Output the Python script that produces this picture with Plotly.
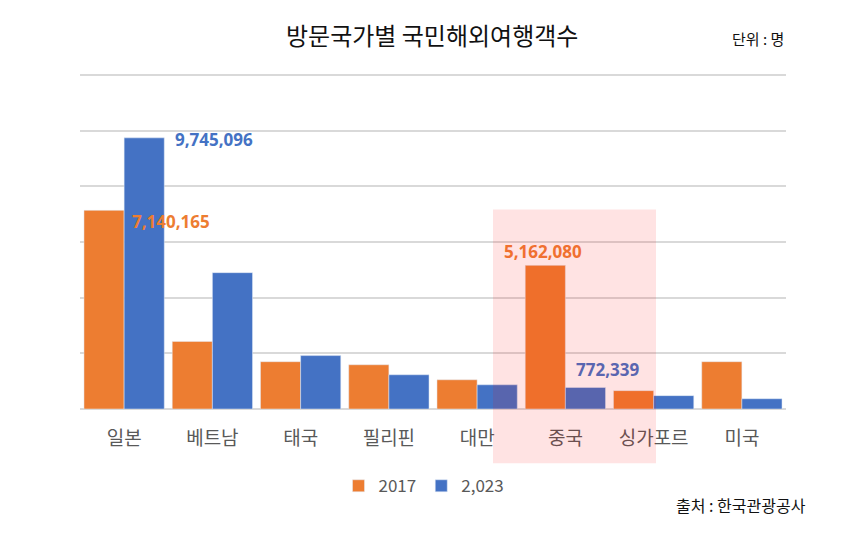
import plotly.graph_objects as go

countries = ['일본', '베트남', '태국', '필리핀', '대만', '중국', '싱가포르', '미국']
visitors_2017 = [7140165, 2430000, 1700000, 1590000, 1050000, 5162080, 660000, 1700000]
visitors_2023 = [9745096, 4900000, 1920000, 1230000, 870000, 772339, 480000, 370000]

ORANGE = '#ED7D31'
BLUE = '#4472C4'
KFONT = 'Noto Sans CJK KR'

# plot area in page pixels (page body has an 8px margin)
PX0, PX1, PY0, PY1 = 80, 786, 409, 75


def px(x):
    return (x - PX0) / (PX1 - PX0)


def py(y):
    return (PY0 - y) / (PY0 - PY1)


fig = go.Figure()
fig.add_trace(go.Bar(x=countries, y=visitors_2017, name='2017', marker_color=ORANGE))
fig.add_trace(go.Bar(x=countries, y=visitors_2023, name='2,023', marker_color=BLUE))

# value labels
labels = [
    dict(x=countries[0], y=visitors_2017[0], text=f'{visitors_2017[0]:,}', color=ORANGE,
         xanchor='left', xshift=6, yshift=-11),
    dict(x=countries[0], y=visitors_2023[0], text=f'{visitors_2023[0]:,}', color=BLUE,
         xanchor='left', xshift=49, yshift=-2),
    dict(x=countries[5], y=visitors_2017[5], text=f'{visitors_2017[5]:,}', color='#F07030',
         xanchor='center', xshift=-22, yshift=14),
    dict(x=countries[5], y=visitors_2023[5], text=f'{visitors_2023[5]:,}', color='#5A66B0',
         xanchor='center', xshift=42, yshift=18),
]
for l in labels:
    fig.add_annotation(x=l['x'], y=l['y'], text=l['text'], showarrow=False,
                       xanchor=l['xanchor'], yanchor='middle',
                       xshift=l['xshift'], yshift=l['yshift'],
                       font=dict(family='Open Sans', size=17, color=l['color'], weight='bold'))

# highlight box around 중국 / 싱가포르
fig.add_shape(type='rect', xref='paper', yref='paper',
              x0=px(493), x1=px(656), y0=py(463), y1=py(210),
              fillcolor='rgba(255,0,0,0.11)', line_width=0, layer='above')

fig.add_annotation(text='방문국가별 국민해외여행객수', xref='paper', yref='paper',
                   x=px(432), y=py(36), showarrow=False,
                   xanchor='center', yanchor='middle',
                   font=dict(family=KFONT, size=24, color='#111111'))
fig.add_annotation(text='단위 : 명', xref='paper', yref='paper',
                   x=px(786), y=py(40), showarrow=False,
                   xanchor='right', yanchor='middle',
                   font=dict(family=KFONT, size=15, color='#111111'))
fig.add_annotation(text='출처 : 한국관광공사', xref='paper', yref='paper',
                   x=px(808), y=py(505), showarrow=False,
                   xanchor='right', yanchor='middle',
                   font=dict(family=KFONT, size=16, color='#111111'))

fig.update_layout(
    width=867, height=541,
    margin=dict(l=PX0 - 8, r=867 - PX1 + 8, t=PY1 - 8 - 1, b=541 - PY0 + 8),
    plot_bgcolor='white', paper_bgcolor='white',
    barmode='group', bargap=0.09, bargroupgap=0,
    showlegend=True,
    legend=dict(orientation='h', x=px(424), xanchor='center', y=py(486), yanchor='middle',
                font=dict(family=KFONT, size=17, color='#595959'),
                itemwidth=30, traceorder='normal'),
    xaxis=dict(tickfont=dict(family=KFONT, size=19, color='#595959'),
               showgrid=False, showline=False, ticks='', ticklabelstandoff=16),
    yaxis=dict(range=[0, 12040000], dtick=2000000, showticklabels=False,
               gridcolor='#d9d9d9', gridwidth=2, zeroline=True,
               zerolinecolor='#d9d9d9', zerolinewidth=2),
)

fig.write_html('out.html')
